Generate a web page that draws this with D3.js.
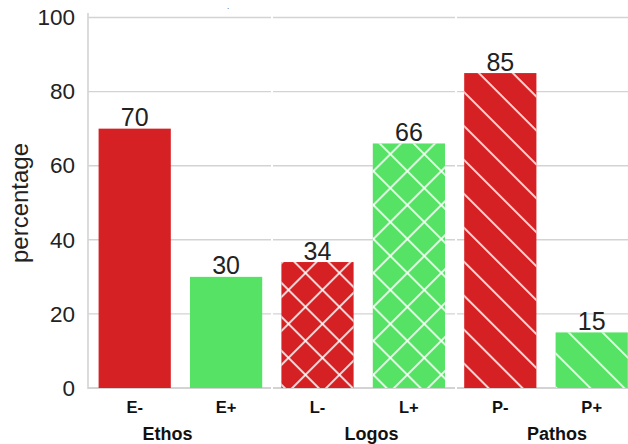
<!DOCTYPE html>
<html>
<head>
<meta charset="utf-8">
<script src="https://cdn.jsdelivr.net/npm/d3@7"></script>
<style>
  html, body { margin: 0; padding: 0; background: #fff; }
  svg { display: block; font-family: "Liberation Sans", Arial, Helvetica, sans-serif; }
</style>
</head>
<body>
<svg id="chart" width="628" height="444"></svg>
<script>
// Share of negative / positive ratings per rhetorical appeal
const categories = ["E-", "E+", "L-", "L+", "P-", "P+"];
const values = [70, 30, 34, 66, 85, 15];
const polarity = ["neg", "pos", "neg", "pos", "neg", "pos"];
const hatches = ["none", "none", "cross", "cross", "diag", "diag"];
const groups = ["Ethos", "Logos", "Pathos"];
const groupAnchor = [0.36, 2.59, 4.62];   // label centre, in band-index units
const yTicks = [0, 20, 40, 60, 80, 100];

const colors = { neg: "#d52124", pos: "#56e264" };

const svg = d3.select("#chart");
const W = 628, H = 444;
const plotLeft = 88, plotBottom = 388, plotTop = 17.5;

const x = d3.scaleBand()
  .domain(categories)
  .range([plotLeft + 1, plotLeft + 1 + 6 * 91.4])
  .paddingInner(0.21)
  .paddingOuter(0.105);

const y = d3.scaleLinear().domain([0, 100]).range([plotBottom, plotTop]);

// hatch patterns: white strokes on transparent tiles
const defs = svg.append("defs");
const s = 24;
const diag = defs.append("pattern")
  .attr("id", "hatch-diag")
  .attr("patternUnits", "userSpaceOnUse")
  .attr("width", s).attr("height", s)
  .attr("patternTransform", "rotate(45)");
diag.append("line").attr("x1", 0).attr("y1", 1).attr("x2", s).attr("y2", 1)
  .attr("stroke", "#fff").attr("stroke-width", 1.6);

const cross = defs.append("pattern")
  .attr("id", "hatch-cross")
  .attr("patternUnits", "userSpaceOnUse")
  .attr("width", s).attr("height", s)
  .attr("patternTransform", "rotate(45)");
cross.append("line").attr("x1", 0).attr("y1", 1).attr("x2", s).attr("y2", 1)
  .attr("stroke", "#fff").attr("stroke-width", 1.6);
cross.append("line").attr("x1", 1).attr("y1", 0).attr("x2", 1).attr("y2", s)
  .attr("stroke", "#fff").attr("stroke-width", 1.6);

// panels (one per appeal) carry their own grid segments
const panelEdges = [[plotLeft, 271], [273, 455], [457, W]];
const grid = svg.append("g");
panelEdges.forEach(([a, b]) => {
  grid.selectAll(null)
    .data(yTicks)
    .enter().append("line")
    .attr("x1", a).attr("x2", b)
    .attr("y1", d => y(d)).attr("y2", d => y(d))
    .attr("stroke", "#d3d3d3")
    .attr("stroke-width", d => d === 0 ? 1.8 : 1.4);
});

// left spine
svg.append("line")
  .attr("x1", plotLeft).attr("x2", plotLeft)
  .attr("y1", plotTop - 4.5).attr("y2", plotBottom + 1)
  .attr("stroke", "#d3d3d3").attr("stroke-width", 1.6);

// y tick labels
const yAxis = d3.axisLeft(y).tickValues(yTicks).tickSize(0).tickPadding(13);
const yg = svg.append("g").attr("transform", `translate(${plotLeft},0)`).call(yAxis);
yg.select(".domain").remove();
yg.selectAll("text")
  .attr("font-size", 22.5)
  .attr("fill", "#222")
  .attr("font-family", "'Liberation Sans', Arial, sans-serif");

// y label
svg.append("text")
  .attr("transform", `translate(28,203) rotate(-90)`)
  .attr("text-anchor", "middle")
  .attr("font-size", 24)
  .attr("fill", "#222")
  .text("percentage");

// bars
const data = categories.map((c, i) => ({ c, v: values[i], p: polarity[i], h: hatches[i] }));
const bars = svg.append("g");
bars.selectAll("rect.base")
  .data(data).enter().append("rect")
  .attr("class", "base")
  .attr("x", d => x(d.c))
  .attr("width", x.bandwidth())
  .attr("y", d => y(d.v))
  .attr("height", d => y(0) - y(d.v))
  .attr("fill", d => colors[d.p]);

bars.selectAll("rect.hatch")
  .data(data.filter(d => d.h !== "none")).enter().append("rect")
  .attr("class", "hatch")
  .attr("x", d => x(d.c))
  .attr("width", x.bandwidth())
  .attr("y", d => y(d.v))
  .attr("height", d => y(0) - y(d.v))
  .attr("fill", d => `url(#hatch-${d.h})`);

// value labels
svg.append("g").selectAll("text")
  .data(data).enter().append("text")
  .attr("x", d => x(d.c) + x.bandwidth() / 2)
  .attr("y", d => y(d.v) - 2.5)
  .attr("text-anchor", "middle")
  .attr("font-size", 25)
  .attr("fill", "#222")
  .text(d => d.v);

// x tick labels
const xAxis = d3.axisBottom(x).tickSize(0).tickPadding(13.5);
const xg = svg.append("g").attr("transform", `translate(0,${plotBottom})`).call(xAxis);
xg.select(".domain").remove();
xg.selectAll("text")
  .attr("font-size", 16.5)
  .attr("font-weight", "bold")
  .attr("fill", "#111")
  .attr("font-family", "'Liberation Sans', Arial, sans-serif");

// group labels
const step = x.step();
const firstCentre = x(categories[0]) + x.bandwidth() / 2;
svg.append("g").selectAll("text")
  .data(groups).enter().append("text")
  .attr("x", (d, i) => firstCentre + groupAnchor[i] * step)
  .attr("y", 440)
  .attr("text-anchor", "middle")
  .attr("font-size", 18)
  .attr("font-weight", "bold")
  .attr("fill", "#111")
  .text(d => d);

// small mark above the plot
svg.append("text")
  .attr("x", 228).attr("y", 9)
  .attr("text-anchor", "middle")
  .attr("font-size", 8)
  .attr("fill", "#333")
  .text(".");
</script>
</body>
</html>
